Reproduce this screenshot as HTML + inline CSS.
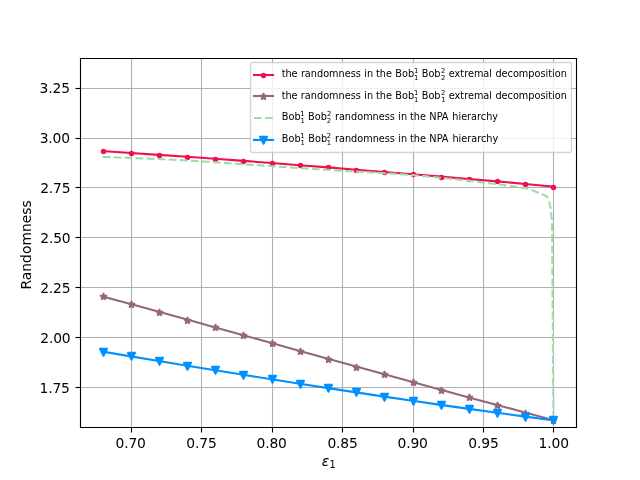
<!DOCTYPE html>
<html lang="en"><head><meta charset="utf-8"><title>Randomness plot</title>
<style>html,body{margin:0;padding:0;background:#fff;overflow:hidden}svg{display:block}text{white-space:pre}</style></head>
<body>
<svg width="640" height="480" viewBox="0 0 640 480" font-family='"DejaVu Sans", "Liberation Sans", sans-serif'>
<defs><clipPath id="axclip"><rect x="80" y="57.6" width="496" height="369.6"/></clipPath></defs>
<rect width="640" height="480" fill="#ffffff"/>
<g stroke="#b0b0b0" stroke-width="1.111" fill="none" stroke-linecap="square">
<line x1="131.5" y1="58.5" x2="131.5" y2="427.5"/>
<line x1="201.5" y1="58.5" x2="201.5" y2="427.5"/>
<line x1="272.5" y1="58.5" x2="272.5" y2="427.5"/>
<line x1="342.5" y1="58.5" x2="342.5" y2="427.5"/>
<line x1="413.5" y1="58.5" x2="413.5" y2="427.5"/>
<line x1="483.5" y1="58.5" x2="483.5" y2="427.5"/>
<line x1="553.5" y1="58.5" x2="553.5" y2="427.5"/>
<line x1="80.5" y1="387.5" x2="576.5" y2="387.5"/>
<line x1="80.5" y1="337.5" x2="576.5" y2="337.5"/>
<line x1="80.5" y1="287.5" x2="576.5" y2="287.5"/>
<line x1="80.5" y1="237.5" x2="576.5" y2="237.5"/>
<line x1="80.5" y1="187.5" x2="576.5" y2="187.5"/>
<line x1="80.5" y1="138.5" x2="576.5" y2="138.5"/>
<line x1="80.5" y1="88.5" x2="576.5" y2="88.5"/>
</g>
<g stroke="#000000" stroke-width="1.111" fill="none" stroke-linecap="butt">
<line x1="131.5" y1="427.2" x2="131.5" y2="432.5"/>
<line x1="201.5" y1="427.2" x2="201.5" y2="432.5"/>
<line x1="272.5" y1="427.2" x2="272.5" y2="432.5"/>
<line x1="342.5" y1="427.2" x2="342.5" y2="432.5"/>
<line x1="413.5" y1="427.2" x2="413.5" y2="432.5"/>
<line x1="483.5" y1="427.2" x2="483.5" y2="432.5"/>
<line x1="553.5" y1="427.2" x2="553.5" y2="432.5"/>
<line x1="75.5" y1="387.5" x2="80" y2="387.5"/>
<line x1="75.5" y1="337.5" x2="80" y2="337.5"/>
<line x1="75.5" y1="287.5" x2="80" y2="287.5"/>
<line x1="75.5" y1="237.5" x2="80" y2="237.5"/>
<line x1="75.5" y1="187.5" x2="80" y2="187.5"/>
<line x1="75.5" y1="138.5" x2="80" y2="138.5"/>
<line x1="75.5" y1="88.5" x2="80" y2="88.5"/>
</g>
<g font-size="13.889" fill="#000000">
<text x="130.667" y="448.2" text-anchor="middle" textLength="30.4">0.70</text>
<text x="201.562" y="448.17" text-anchor="middle" textLength="30.4">0.75</text>
<text x="271.686" y="448.13" text-anchor="middle" textLength="30.4">0.80</text>
<text x="342.591" y="448.13" text-anchor="middle" textLength="30.4">0.85</text>
<text x="412.715" y="448.1" text-anchor="middle" textLength="30.4">0.90</text>
<text x="483.57" y="448.08" text-anchor="middle" textLength="30.4">0.95</text>
<text x="553.755" y="448.08" text-anchor="middle" textLength="30.4">1.00</text>
<text x="69.93" y="392.703" text-anchor="end" textLength="30.4">1.75</text>
<text x="70.67" y="342.757" text-anchor="end" textLength="30.4">2.00</text>
<text x="70.56" y="292.721" text-anchor="end" textLength="30.4">2.25</text>
<text x="70.69" y="242.865" text-anchor="end" textLength="30.4">2.50</text>
<text x="70.61" y="192.889" text-anchor="end" textLength="30.4">2.75</text>
<text x="70.08" y="142.944" text-anchor="end" textLength="30.4">3.00</text>
<text x="70.02" y="92.908" text-anchor="end" textLength="30.4">3.25</text>
<text x="321.7" y="465.5" font-style="oblique">ε<tspan font-style="normal" font-size="9.722" dx="0.3" dy="2.3">1</tspan></text>
<text transform="translate(30.9 244.9) rotate(-90)" text-anchor="middle">Randomness</text>
</g>
<g clip-path="url(#axclip)">
<polyline points="102.545,151.103 130.727,152.95 158.909,154.851 187.091,156.806 215.273,158.816 243.455,160.88 271.636,163 299.818,165.175 328,167.4 356.182,169.668 384.364,171.963 412.545,174.274 440.727,176.6 468.909,178.959 497.091,181.4 525.273,183.969 553.455,186.682" fill="none" stroke="#EE1050" stroke-width="2.083" stroke-linejoin="round" stroke-linecap="square"/>
<g fill="#EE1050" stroke="#EE1050" stroke-width="1.4" stroke-linejoin="round"><circle cx="103.5" cy="151.5" r="2"/><circle cx="131.5" cy="153.5" r="2"/><circle cx="159.5" cy="155.5" r="2"/><circle cx="187.5" cy="157.5" r="2"/><circle cx="215.5" cy="159.5" r="2"/><circle cx="243.5" cy="161.5" r="2"/><circle cx="272.5" cy="163.5" r="2"/><circle cx="300.5" cy="165.5" r="2"/><circle cx="328.5" cy="167.5" r="2"/><circle cx="356.5" cy="170.5" r="2"/><circle cx="384.5" cy="172.5" r="2"/><circle cx="413.5" cy="174.5" r="2"/><circle cx="441.5" cy="177.5" r="2"/><circle cx="469.5" cy="179.5" r="2"/><circle cx="497.5" cy="181.5" r="2"/><circle cx="525.5" cy="184.5" r="2"/><circle cx="553.5" cy="187.5" r="2"/></g>
<polyline points="102.545,296.395 130.727,304.097 158.909,311.832 187.091,319.6 215.273,327.4 243.455,335.232 271.636,343.087 299.818,350.946 328,358.789 356.182,366.6 384.364,374.366 412.545,382.084 440.727,389.76 468.909,397.4 497.091,405.012 525.273,412.6 553.455,420.164" fill="none" stroke="#946975" stroke-width="2.083" stroke-linejoin="round" stroke-linecap="square"/>
<g fill="#946975" stroke="#946975" stroke-width="1.6" stroke-linejoin="bevel"><path d="M103.5 292.933 L102.677 295.467 L100.013 295.467 L102.168 297.033 L101.345 299.566 L103.5 298.001 L105.655 299.566 L104.832 297.033 L106.987 295.467 L104.323 295.467Z"/><path d="M131.5 300.933 L130.677 303.467 L128.013 303.467 L130.168 305.033 L129.345 307.566 L131.5 306.001 L133.655 307.566 L132.832 305.033 L134.987 303.467 L132.323 303.467Z"/><path d="M159.5 308.933 L158.677 311.467 L156.013 311.467 L158.168 313.033 L157.345 315.566 L159.5 314.001 L161.655 315.566 L160.832 313.033 L162.987 311.467 L160.323 311.467Z"/><path d="M187.5 316.933 L186.677 319.467 L184.013 319.467 L186.168 321.033 L185.345 323.566 L187.5 322.001 L189.655 323.566 L188.832 321.033 L190.987 319.467 L188.323 319.467Z"/><path d="M215.5 323.933 L214.677 326.467 L212.013 326.467 L214.168 328.033 L213.345 330.566 L215.5 329.001 L217.655 330.566 L216.832 328.033 L218.987 326.467 L216.323 326.467Z"/><path d="M243.5 331.933 L242.677 334.467 L240.013 334.467 L242.168 336.033 L241.345 338.566 L243.5 337.001 L245.655 338.566 L244.832 336.033 L246.987 334.467 L244.323 334.467Z"/><path d="M272.5 339.933 L271.677 342.467 L269.013 342.467 L271.168 344.033 L270.345 346.566 L272.5 345.001 L274.655 346.566 L273.832 344.033 L275.987 342.467 L273.323 342.467Z"/><path d="M300.5 347.933 L299.677 350.467 L297.013 350.467 L299.168 352.033 L298.345 354.566 L300.5 353.001 L302.655 354.566 L301.832 352.033 L303.987 350.467 L301.323 350.467Z"/><path d="M328.5 355.933 L327.677 358.467 L325.013 358.467 L327.168 360.033 L326.345 362.566 L328.5 361.001 L330.655 362.566 L329.832 360.033 L331.987 358.467 L329.323 358.467Z"/><path d="M356.5 363.933 L355.677 366.467 L353.013 366.467 L355.168 368.033 L354.345 370.566 L356.5 369.001 L358.655 370.566 L357.832 368.033 L359.987 366.467 L357.323 366.467Z"/><path d="M384.5 370.933 L383.677 373.467 L381.013 373.467 L383.168 375.033 L382.345 377.566 L384.5 376.001 L386.655 377.566 L385.832 375.033 L387.987 373.467 L385.323 373.467Z"/><path d="M413.5 378.933 L412.677 381.467 L410.013 381.467 L412.168 383.033 L411.345 385.566 L413.5 384.001 L415.655 385.566 L414.832 383.033 L416.987 381.467 L414.323 381.467Z"/><path d="M441.5 386.933 L440.677 389.467 L438.013 389.467 L440.168 391.033 L439.345 393.566 L441.5 392.001 L443.655 393.566 L442.832 391.033 L444.987 389.467 L442.323 389.467Z"/><path d="M469.5 393.933 L468.677 396.467 L466.013 396.467 L468.168 398.033 L467.345 400.566 L469.5 399.001 L471.655 400.566 L470.832 398.033 L472.987 396.467 L470.323 396.467Z"/><path d="M497.5 401.933 L496.677 404.467 L494.013 404.467 L496.168 406.033 L495.345 408.566 L497.5 407.001 L499.655 408.566 L498.832 406.033 L500.987 404.467 L498.323 404.467Z"/><path d="M525.5 409.933 L524.677 412.467 L522.013 412.467 L524.168 414.033 L523.345 416.566 L525.5 415.001 L527.655 416.566 L526.832 414.033 L528.987 412.467 L526.323 412.467Z"/><path d="M553.5 416.933 L552.677 419.467 L550.013 419.467 L552.168 421.033 L551.345 423.566 L553.5 422.001 L555.655 423.566 L554.832 421.033 L556.987 419.467 L554.323 419.467Z"/></g>
<polyline points="102.545,156.841 103.955,156.903 105.364,156.965 106.773,157.025 108.182,157.085 109.591,157.144 111,157.202 112.409,157.26 113.818,157.317 115.227,157.374 116.636,157.429 118.045,157.485 119.455,157.54 120.864,157.594 122.273,157.648 123.682,157.702 125.091,157.755 126.5,157.809 127.909,157.862 129.318,157.915 130.727,157.967 132.136,158.02 133.545,158.073 134.955,158.126 136.364,158.178 137.773,158.231 139.182,158.284 140.591,158.338 142,158.391 143.409,158.445 144.818,158.499 146.227,158.554 147.636,158.609 149.045,158.664 150.455,158.72 151.864,158.777 153.273,158.834 154.682,158.892 156.091,158.95 157.5,159.009 158.909,159.069 160.318,159.13 161.727,159.192 163.136,159.255 164.545,159.318 165.955,159.383 167.364,159.448 168.773,159.515 170.182,159.583 171.591,159.652 173,159.722 174.409,159.794 175.818,159.867 177.227,159.941 178.636,160.016 180.045,160.092 181.455,160.169 182.864,160.248 184.273,160.327 185.682,160.408 187.091,160.489 188.5,160.572 189.909,160.655 191.318,160.74 192.727,160.825 194.136,160.911 195.545,160.998 196.955,161.085 198.364,161.174 199.773,161.263 201.182,161.353 202.591,161.444 204,161.535 205.409,161.627 206.818,161.72 208.227,161.813 209.636,161.907 211.045,162.001 212.455,162.095 213.864,162.191 215.273,162.286 216.682,162.382 218.091,162.479 219.5,162.576 220.909,162.673 222.318,162.77 223.727,162.868 225.136,162.966 226.545,163.064 227.955,163.162 229.364,163.261 230.773,163.359 232.182,163.458 233.591,163.557 235,163.656 236.409,163.755 237.818,163.854 239.227,163.953 240.636,164.051 242.045,164.15 243.455,164.249 244.864,164.348 246.273,164.446 247.682,164.545 249.091,164.643 250.5,164.742 251.909,164.84 253.318,164.938 254.727,165.036 256.136,165.134 257.545,165.232 258.955,165.33 260.364,165.428 261.773,165.525 263.182,165.623 264.591,165.72 266,165.818 267.409,165.915 268.818,166.012 270.227,166.109 271.636,166.205 273.045,166.302 274.455,166.398 275.864,166.495 277.273,166.591 278.682,166.687 280.091,166.783 281.5,166.878 282.909,166.974 284.318,167.069 285.727,167.164 287.136,167.259 288.545,167.354 289.955,167.448 291.364,167.543 292.773,167.637 294.182,167.731 295.591,167.824 297,167.918 298.409,168.011 299.818,168.104 301.227,168.197 302.636,168.29 304.045,168.382 305.455,168.474 306.864,168.566 308.273,168.658 309.682,168.749 311.091,168.84 312.5,168.931 313.909,169.022 315.318,169.112 316.727,169.202 318.136,169.292 319.545,169.381 320.955,169.471 322.364,169.559 323.773,169.648 325.182,169.736 326.591,169.824 328,169.912 329.409,169.999 330.818,170.087 332.227,170.173 333.636,170.26 335.045,170.346 336.455,170.432 337.864,170.517 339.273,170.602 340.682,170.687 342.091,170.771 343.5,170.855 344.909,170.939 346.318,171.022 347.727,171.105 349.136,171.188 350.545,171.27 351.955,171.352 353.364,171.433 354.773,171.514 356.182,171.595 357.591,171.675 359,171.755 360.409,171.834 361.818,171.913 363.227,171.992 364.636,172.071 366.045,172.149 367.455,172.227 368.864,172.305 370.273,172.384 371.682,172.462 373.091,172.541 374.5,172.619 375.909,172.699 377.318,172.778 378.727,172.858 380.136,172.939 381.545,173.021 382.955,173.103 384.364,173.185 385.773,173.269 387.182,173.354 388.591,173.439 390,173.526 391.409,173.614 392.818,173.703 394.227,173.794 395.636,173.885 397.045,173.979 398.455,174.073 399.864,174.17 401.273,174.268 402.682,174.368 404.091,174.469 405.5,174.573 406.909,174.678 408.318,174.786 409.727,174.895 411.136,175.007 412.545,175.121 413.955,175.237 415.364,175.356 416.773,175.478 418.182,175.601 419.591,175.728 421,175.857 422.409,175.989 423.818,176.122 425.227,176.258 426.636,176.396 428.045,176.535 429.455,176.675 430.864,176.817 432.273,176.959 433.682,177.102 435.091,177.246 436.5,177.39 437.909,177.534 439.318,177.679 440.727,177.823 442.136,177.968 443.545,178.112 444.955,178.258 446.364,178.403 447.773,178.549 449.182,178.695 450.591,178.842 452,178.989 453.409,179.137 454.818,179.285 456.227,179.434 457.636,179.584 459.045,179.734 460.455,179.885 461.864,180.037 463.273,180.19 464.682,180.343 466.091,180.498 467.5,180.653 468.909,180.81 470.318,180.967 471.727,181.126 473.136,181.286 474.545,181.447 475.955,181.609 477.364,181.772 478.773,181.937 480.182,182.103 481.591,182.271 483,182.44 484.409,182.61 485.818,182.782 487.227,182.956 488.636,183.131 490.045,183.308 491.455,183.486 492.864,183.667 494.273,183.849 495.682,184.032 497.091,184.217 498.5,184.403 499.909,184.59 501.318,184.778 502.727,184.967 504.136,185.156 505.545,185.347 506.955,185.537 508.364,185.728 509.773,185.919 511.182,186.11 512.591,186.301 514,186.492 515.409,186.682 516.818,186.872 518.227,187.061 519.636,187.25 521.045,187.43 522.455,187.601 523.864,187.795 525.273,188.05 526.682,188.382 528.091,188.775 529.5,189.211 530.909,189.67 532.318,190.176 533.727,190.748 535.136,191.343 536.545,191.921 537.955,192.491 539.364,193.066 540.773,193.65 542.182,194.245 543.591,194.842 545,195.5 546.409,196.307 547.818,197.727 549.227,201.59 550.636,208.576 552.045,221.947 553.455,420.215" fill="none" stroke="#9CDDAA" stroke-width="2.083" stroke-linejoin="round" stroke-linecap="butt" stroke-dasharray="7.708 3.333"/>
<polyline points="102.545,351.6 130.727,356.355 158.909,361.056 187.091,365.703 215.273,370.295 243.455,374.833 271.636,379.314 299.818,383.737 328,388.1 356.182,392.4 384.364,396.632 412.545,400.792 440.727,404.874 468.909,408.872 497.091,412.782 525.273,416.6 553.455,420.323" fill="none" stroke="#0090FF" stroke-width="2.083" stroke-linejoin="round" stroke-linecap="square"/>
<g fill="#0090FF" stroke="#0090FF" stroke-width="1.4" stroke-linejoin="bevel"><path d="M103.5 356.5 L107.5 348.5 L99.5 348.5Z"/><path d="M131.5 360.5 L135.5 352.5 L127.5 352.5Z"/><path d="M159.5 365.5 L163.5 357.5 L155.5 357.5Z"/><path d="M187.5 370.5 L191.5 362.5 L183.5 362.5Z"/><path d="M215.5 374.5 L219.5 366.5 L211.5 366.5Z"/><path d="M243.5 379.5 L247.5 371.5 L239.5 371.5Z"/><path d="M272.5 383.5 L276.5 375.5 L268.5 375.5Z"/><path d="M300.5 388.5 L304.5 380.5 L296.5 380.5Z"/><path d="M328.5 392.5 L332.5 384.5 L324.5 384.5Z"/><path d="M356.5 396.5 L360.5 388.5 L352.5 388.5Z"/><path d="M384.5 401.5 L388.5 393.5 L380.5 393.5Z"/><path d="M413.5 405.5 L417.5 397.5 L409.5 397.5Z"/><path d="M441.5 409.5 L445.5 401.5 L437.5 401.5Z"/><path d="M469.5 413.5 L473.5 405.5 L465.5 405.5Z"/><path d="M497.5 417.5 L501.5 409.5 L493.5 409.5Z"/><path d="M525.5 421.5 L529.5 413.5 L521.5 413.5Z"/><path d="M553.5 424.5 L557.5 416.5 L549.5 416.5Z"/></g>
</g>
<g stroke="#000000" stroke-width="1.111" fill="none" stroke-linecap="square">
<line x1="80.5" y1="58.5" x2="80.5" y2="427.5"/>
<line x1="576.5" y1="58.5" x2="576.5" y2="427.5"/>
<line x1="80.5" y1="427.5" x2="576.5" y2="427.5"/>
<line x1="80.5" y1="58.5" x2="576.5" y2="58.5"/>
</g>
<path d="M252.444 152.5 L569.556 152.5 Q571.5 152.5 571.5 150.556 L571.5 64.444 Q571.5 62.5 569.556 62.5 L252.444 62.5 Q250.5 62.5 250.5 64.444 L250.5 150.556 Q250.5 152.5 252.444 152.5 Z" fill="#ffffff" stroke="#cccccc" stroke-width="1.389" stroke-linejoin="miter" opacity="0.8"/>
<line x1="254" y1="75" x2="273" y2="75" stroke="#EE1050" stroke-width="2.083" stroke-linecap="square"/>
<g fill="#EE1050" stroke="#EE1050" stroke-width="1.4" stroke-linejoin="round"><circle cx="263.5" cy="75.5" r="2"/></g>
<line x1="254" y1="96" x2="273" y2="96" stroke="#946975" stroke-width="2.083" stroke-linecap="square"/>
<g fill="#946975" stroke="#946975" stroke-width="1.6" stroke-linejoin="bevel"><path d="M263.5 92.933 L262.677 95.467 L260.013 95.467 L262.168 97.033 L261.345 99.566 L263.5 98.001 L265.655 99.566 L264.832 97.033 L266.987 95.467 L264.323 95.467Z"/></g>
<line x1="254" y1="118" x2="273" y2="118" stroke="#9CDDAA" stroke-width="2.083" stroke-dasharray="7.708 3.333"/>
<line x1="254" y1="140" x2="273" y2="140" stroke="#0090FF" stroke-width="2.083" stroke-linecap="square"/>
<g fill="#0090FF" stroke="#0090FF" stroke-width="1.4" stroke-linejoin="bevel"><path d="M263.5 144.5 L267.5 136.5 L259.5 136.5Z"/></g>
<g font-size="9.722" fill="#000000" stroke="#000000" stroke-width="0">
<text><tspan x="281.64" y="77">the </tspan><tspan x="300.88" y="77">randomness </tspan><tspan x="364.371" y="77">in </tspan><tspan x="375.969" y="77">the </tspan><tspan x="395.289" y="77">Bob</tspan><tspan x="414.038" y="73.17" font-size="6.806">1</tspan><tspan x="413.998" y="79.73" font-size="6.806">1</tspan><tspan x="418.493" y="77"> </tspan><tspan x="421.763" y="77">Bob</tspan><tspan x="441.091" y="73.17" font-size="6.806">2</tspan><tspan x="441.101" y="79.73" font-size="6.806">2</tspan><tspan x="445.147" y="77"> </tspan><tspan x="448.776" y="77">extremal </tspan><tspan x="495.415" y="77">decomposition</tspan></text>
<text><tspan x="281.64" y="99">the </tspan><tspan x="300.87" y="99">randomness </tspan><tspan x="364.371" y="99">in </tspan><tspan x="375.969" y="99">the </tspan><tspan x="395.289" y="99">Bob</tspan><tspan x="414.068" y="95.17" font-size="6.806">1</tspan><tspan x="413.998" y="101.73" font-size="6.806">1</tspan><tspan x="418.493" y="99"> </tspan><tspan x="421.763" y="99">Bob</tspan><tspan x="441.051" y="95.17" font-size="6.806">2</tspan><tspan x="441.291" y="101.73" font-size="6.806">1</tspan><tspan x="445.147" y="99"> </tspan><tspan x="448.776" y="99">extremal </tspan><tspan x="495.415" y="99">decomposition</tspan></text>
<text><tspan x="281.84" y="120">Bob</tspan><tspan x="300.349" y="116.17" font-size="6.806">1</tspan><tspan x="300.419" y="122.73" font-size="6.806">1</tspan><tspan x="305.054" y="120"> </tspan><tspan x="308.104" y="120">Bob</tspan><tspan x="326.902" y="116.17" font-size="6.806">2</tspan><tspan x="326.712" y="122.73" font-size="6.806">2</tspan><tspan x="331.708" y="120"> </tspan><tspan x="334.937" y="120">randomness </tspan><tspan x="398.319" y="120">in </tspan><tspan x="409.956" y="120">the </tspan><tspan x="429.366" y="120">NPA </tspan><tspan x="452.268" y="120">hierarchy</tspan></text>
<text><tspan x="281.85" y="142">Bob</tspan><tspan x="300.369" y="138.17" font-size="6.806">1</tspan><tspan x="300.459" y="144.73" font-size="6.806">1</tspan><tspan x="305.054" y="142"> </tspan><tspan x="308.374" y="142">Bob</tspan><tspan x="326.782" y="138.17" font-size="6.806">2</tspan><tspan x="326.682" y="144.73" font-size="6.806">1</tspan><tspan x="331.708" y="142"> </tspan><tspan x="334.957" y="142">randomness </tspan><tspan x="398.339" y="142">in </tspan><tspan x="409.926" y="142">the </tspan><tspan x="429.366" y="142">NPA </tspan><tspan x="452.378" y="142">hierarchy</tspan></text>
</g>
</svg>
</body></html>
